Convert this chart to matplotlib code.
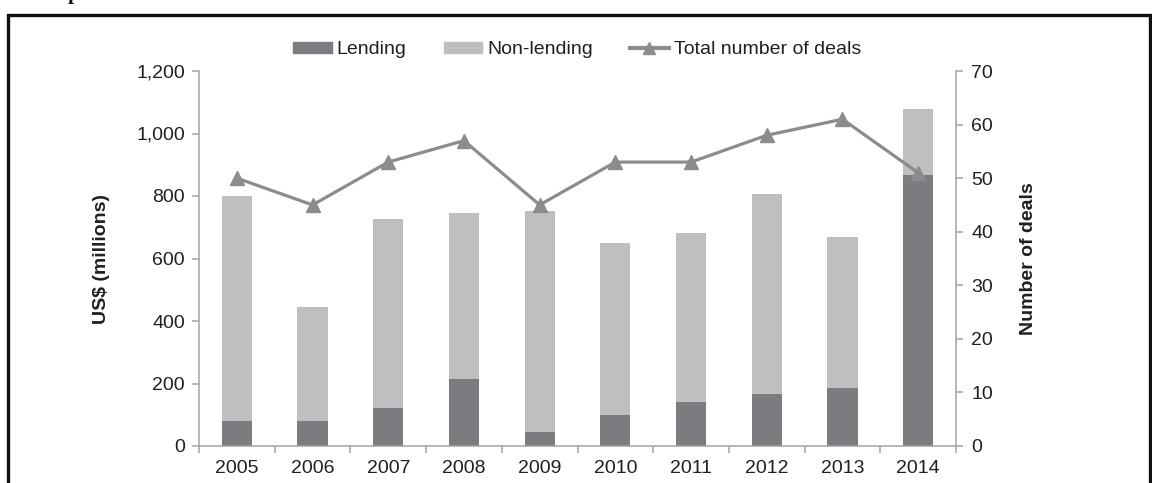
import matplotlib
matplotlib.use("Agg")
import matplotlib.pyplot as plt
from matplotlib.ticker import FuncFormatter, FixedLocator
from matplotlib.patches import Rectangle
from matplotlib.lines import Line2D
import numpy as np

# Data
years = ["2005", "2006", "2007", "2008", "2009", "2010", "2011", "2012", "2013", "2014"]
lending = [80, 80, 122, 215, 45, 100, 140, 168, 187, 866]
total_value = [800, 445, 728, 745, 753, 651, 683, 808, 668, 1080]
deals = [50, 45, 53, 57, 45, 53, 53, 58, 61, 51]

non_lending = [t - l for t, l in zip(total_value, lending)]

C_LEND = "#7b7c80"
C_NONLEND = "#bebfc1"
C_LINE = "#8b8c8e"
C_AXIS = "#a3a3a3"
C_TEXT = "#231f20"
FS = 14

plt.rcParams["font.family"] = ["Liberation Sans", "DejaVu Sans"]
plt.rcParams["font.size"] = FS

fig = plt.figure(figsize=(11.52, 4.83), dpi=100)
W, H = 1152, 483

# outer frame
fig.add_artist(Rectangle((8 / W, -0.05), (1150 - 8) / W, 1.05 - 15 / H,
                         transform=fig.transFigure, fill=False,
                         edgecolor="#111111", linewidth=2.4, zorder=0))
# heading fragment at the top edge
fig.text(68 / W, 1 + 1.5 / H, "p", family=["Liberation Serif", "DejaVu Serif"],
         fontweight="bold", fontsize=15, va="baseline", ha="left", color="#111111")

ax = fig.add_axes([199 / W, 1 - 446 / H, (956 - 199) / W, (446 - 71) / H])
ax2 = ax.twinx()

x = np.arange(len(years))
bw = 0.40
ax.bar(x, lending, bw, color=C_LEND, label="Lending", zorder=2)
ax.bar(x, non_lending, bw, bottom=lending, color=C_NONLEND, label="Non-lending", zorder=2)

ax2.plot(x, deals, color=C_LINE, linewidth=2.3, marker="^", markersize=10,
         markeredgecolor=C_LINE, markerfacecolor=C_LINE, label="Total number of deals",
         zorder=3)

ax.set_xlim(-0.5, len(years) - 0.5)
ax.set_ylim(0, 1200)
ax2.set_ylim(0, 70)

ax.set_yticks(range(0, 1201, 200))
ax.yaxis.set_major_formatter(FuncFormatter(lambda v, p: f"{int(v):,}"))
ax2.set_yticks(range(0, 71, 10))

ax.set_xticks(x)
ax.set_xticklabels(years)
ax.xaxis.set_minor_locator(FixedLocator(np.arange(-0.5, len(years), 1.0)))
ax.tick_params(axis="x", which="major", length=0, pad=10, colors=C_TEXT, labelsize=FS)
ax.tick_params(axis="x", which="minor", length=5, width=1.1, color=C_AXIS, direction="out")
ax.tick_params(axis="y", length=5, width=1.1, color=C_AXIS, labelcolor=C_TEXT, pad=5,
               direction="out", labelsize=FS)
ax2.tick_params(axis="y", length=5, width=1.1, color=C_AXIS, labelcolor=C_TEXT, pad=6,
                direction="out", labelsize=FS)

for a in (ax, ax2):
    a.spines["top"].set_visible(False)
    for s in ("left", "right", "bottom"):
        a.spines[s].set_color(C_AXIS)
        a.spines[s].set_linewidth(1.1)
ax.spines["right"].set_visible(False)
ax2.spines["left"].set_visible(False)
ax2.spines["bottom"].set_visible(False)

ax.set_ylabel("US$ (millions)", fontweight="bold", color=C_TEXT, fontsize=FS)
ax2.set_ylabel("Number of deals", fontweight="bold", color=C_TEXT, fontsize=FS)
ax.yaxis.set_label_coords((110 - 199) / (956 - 199), 0.5)
ax2.yaxis.set_label_coords((1020 - 199) / (956 - 199), 0.5)

handles = [Rectangle((0, 0), 1, 1, color=C_LEND),
           Rectangle((0, 0), 1, 1, color=C_NONLEND),
           Line2D([0], [0], color=C_LINE, linewidth=3, marker="^", markersize=9)]
labels = ["Lending", "Non-lending", "Total number of deals"]
leg = fig.legend(handles, labels, loc="center", bbox_to_anchor=(577 / W, 1 - 50 / H),
                 ncol=3, frameon=False, handlelength=2.0, handleheight=0.5,
                 handletextpad=0.25, columnspacing=1.9, fontsize=FS)
for t in leg.get_texts():
    t.set_color(C_TEXT)

fig.savefig("out.png", dpi=100)
